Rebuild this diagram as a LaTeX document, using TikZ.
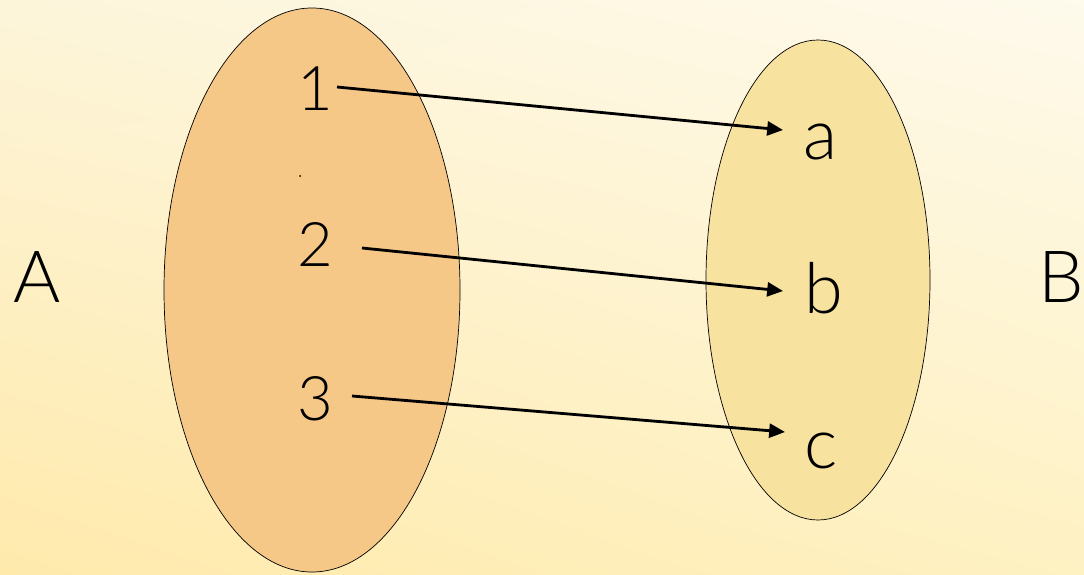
\documentclass[tikz,border=0pt]{standalone}
\usepackage{fontspec}
\setmainfont{Lato}[UprightFont=* Light]
\usepackage{tikz}
\usetikzlibrary{arrows.meta,shadings}
\usepackage{xcolor}
\definecolor{setA}{RGB}{245,200,135}
\definecolor{setB}{RGB}{248,226,160}
\definecolor{bgTL}{RGB}{253,245,218}
\definecolor{bgTR}{RGB}{254,250,236}
\definecolor{bgBL}{RGB}{255,234,172}
\definecolor{bgBR}{RGB}{254,241,194}

\begin{document}
\begin{tikzpicture}[
    maparrow/.style={line width=1.6pt, -{Triangle[length=9pt,width=8pt]}},
    elem/.style={anchor=base, inner sep=0pt, font=\fontsize{35}{40}\selectfont},
    letter/.style={anchor=base, inner sep=0pt, font=\fontsize{40}{44}\selectfont},
    setname/.style={anchor=base, inner sep=0pt, font=\fontsize{41}{46}\selectfont}]
    \useasboundingbox (0,0) rectangle (21.68,11.48);
    \shade[upper left=bgTL, upper right=bgTR, lower left=bgBL, lower right=bgBR]
        (0,0) rectangle (21.68,11.48);
    % the two sets
    \draw[thin, fill=setA] (6.24,5.68) ellipse (2.96cm and 5.64cm);
    \draw[thin, fill=setB] (16.36,5.88) ellipse (2.24cm and 4.8cm);
    \node[setname] (A) at (0.74,5.44) {A};
    \node[setname] (B) at (21.22,5.44) {B};
    \fill (6.0,7.96) circle (0.02cm);
    % elements
    \node[elem] (n1) at (6.3,9.26) {1};
    \node[elem] (n2) at (6.3,6.16) {2};
    \node[elem] (n3) at (6.3,3.08) {3};
    \node[letter] (la) at (16.4,8.28) {a};
    \node[letter] (lb) at (16.48,5.22) {b};
    \node[letter] (lc) at (16.42,2.12) {c};
    % the mapping
    \draw[maparrow] ([shift={(0.44,0.48)}]n1.base) -- ([shift={(-0.74,0.6)}]la.base);
    \draw[maparrow] ([shift={(0.94,0.36)}]n2.base) -- ([shift={(-0.82,0.44)}]lb.base);
    \draw[maparrow] ([shift={(0.74,0.48)}]n3.base) -- ([shift={(-0.72,0.72)}]lc.base);
\end{tikzpicture}
\end{document}
